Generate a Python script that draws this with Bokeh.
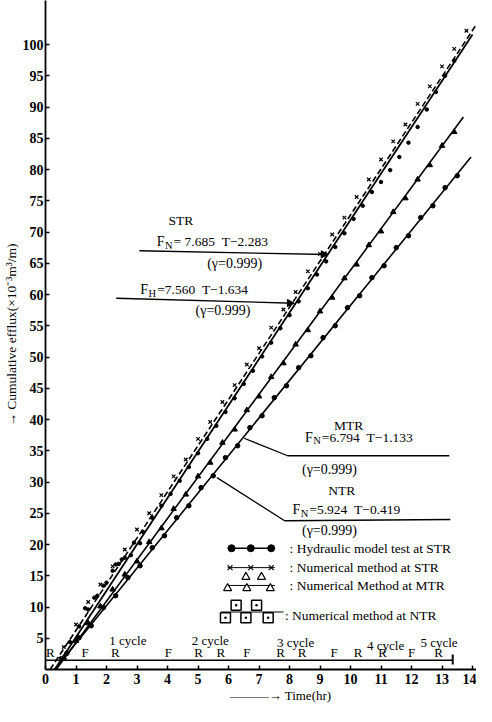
from bokeh.plotting import figure
from bokeh.models import (LinearAxis, FixedTicker, Range1d, Arrow, NormalHead)
from bokeh.core.properties import value
from bokeh.embed import file_html
from bokeh.resources import INLINE

FONT = "Liberation Serif"

# ---------------- data ----------------
x_ticks = list(range(0, 15))
y_ticks = list(range(5, 105, 5))

# STR hydraulic model test (filled dots)
str_hyd_T = [0.5, 0.8, 1.1, 1.3, 1.4, 1.6, 1.7, 1.9, 2.0, 2.2, 2.3, 2.4, 2.5, 2.6, 2.8,
             2.9, 3.1, 3.2, 3.5, 3.8, 4.1, 4.4, 4.7, 5.0, 5.3, 5.6, 5.9, 6.2, 6.5,
             6.8, 7.1, 7.4, 7.7, 8.0, 8.3, 8.6, 8.9, 9.2, 9.5, 9.8, 10.1, 10.4, 10.7,
             11.0, 11.3, 11.6, 11.9, 12.2, 12.5, 12.8, 13.1, 13.4]
str_hyd_F = [1.8, 4.4, 6.9, 9.8, 9.6, 11.5, 11.8, 13.4, 13.9, 15.8, 16.8, 16.9, 17.6, 17.9, 18.3,
             20.3, 20.2, 22.0, 24.3, 26.2, 28.1, 30.2, 32.4, 34.6, 36.9, 39.0, 41.2, 43.4, 45.7,
             47.8, 50.1, 52.3, 54.6, 56.7, 58.9, 61.0, 63.2, 65.3, 67.6, 69.8, 72.1, 74.2, 76.4,
             78.0, 79.9, 82.0, 84.3, 86.8, 89.6, 92.4, 95.0, 97.4]

# STR numerical method (x marks)
str_num_T = [0.6, 1.0, 1.4, 1.8, 2.2, 2.6, 3.0, 3.4, 3.8, 4.2, 4.6, 5.0, 5.4, 5.8, 6.2,
             6.6, 7.0, 7.4, 7.8, 8.2, 8.6, 9.0, 9.4, 9.8, 10.2, 10.6, 11.0, 11.4, 11.8,
             12.2, 12.6, 13.0, 13.4, 13.8]
str_num_F = [3.6, 7.2, 10.8, 13.6, 16.5, 19.2, 22.4, 25.0, 27.9, 30.9, 33.6, 36.9, 39.6, 42.8, 45.5,
             48.8, 51.4, 54.7, 57.6, 60.4, 63.7, 66.5, 69.6, 72.3, 75.6, 78.4, 81.6, 84.5, 87.2,
             90.5, 93.3, 96.5, 99.3, 102.2]

# MTR numerical method (triangles)
mtr_T = [0.6, 1.0, 1.4, 1.8, 2.2, 2.6, 3.0, 3.4, 3.8, 4.2, 4.6, 5.0, 5.4, 5.8, 6.2, 6.6, 7.0,
         7.4, 7.8, 8.2, 8.6, 9.0, 9.4, 9.8, 10.2, 10.6, 11.0, 11.4, 11.8, 12.2, 12.6, 13.0, 13.4]
mtr_F = [1.9, 4.6, 7.4, 10.1, 12.8, 15.2, 17.3, 20.4, 22.6, 25.7, 28.0, 30.9, 33.1, 36.3, 38.4,
         41.5, 43.7, 46.8, 49.0, 52.0, 54.3, 57.3, 59.5, 62.6, 64.8, 67.9, 70.1, 73.2, 75.4,
         78.4, 80.7, 83.8, 86.0]

# NTR numerical method (dotted squares)
ntr_T = [0.7, 1.1, 1.5, 1.9, 2.3, 2.7, 3.1, 3.5, 3.9, 4.3, 4.7, 5.1, 5.5, 5.9, 6.3, 6.7, 7.1,
         7.5, 7.9, 8.3, 8.7, 9.1, 9.5, 9.9, 10.3, 10.7, 11.1, 11.5, 11.9, 12.3, 12.7, 13.1, 13.5]
ntr_F = [2.6, 5.1, 7.0, 9.9, 11.8, 14.7, 16.6, 19.5, 21.4, 24.3, 26.2, 29.1, 31.0, 33.9, 35.8,
         38.7, 40.6, 43.5, 45.4, 48.3, 50.2, 53.1, 55.0, 57.9, 59.8, 62.7, 64.6, 67.5, 69.4,
         72.3, 74.2, 77.1, 79.0]

# fitted lines (end points)
str_fitN_T = [0.3, 14.0]
str_fitN_F = [0.0, 101.6]
str_fitH_T = [0.15, 14.1]
str_fitH_F = [0.0, 103.0]
mtr_fit_T = [0.35, 13.7]
mtr_fit_F = [0.0, 88.4]
ntr_fit_T = [0.3, 13.95]
ntr_fit_F = [0.0, 82.0]

# cycle bar along the time axis
cycle_bar_T = [0.0, 13.35]
cycle_bar_F = [1.5, 1.5]
phase_T = [0.16, 1.30, 2.29, 4.03, 5.02, 5.75, 6.60, 7.71, 8.41, 9.46, 10.25, 11.05, 12.0, 12.89]
phase_txt = ["R", "F", "R", "F", "R", "R", "F", "R", "R", "F", "R", "R", "F", "R"]
cycle_T = [2.7, 5.4, 8.2, 11.15, 12.9]
cycle_F = [4.7, 4.7, 4.4, 3.9, 4.4]
cycle_txt = ["1 cycle", "2 cycle", "3 cycle", "4 cycle", "5 cycle"]

NB = "\u00a0"

# ---------------- figure ----------------
p = figure(width=476, height=706, output_backend="svg", toolbar_location=None,
           x_range=Range1d(0, 14.13), y_range=Range1d(0, 107.04),
           x_axis_type=None, y_axis_type=None,
           min_border_left=38, min_border_right=0, min_border_top=0, min_border_bottom=37)
p.outline_line_color = None
p.background_fill_color = "white"
p.border_fill_color = "white"

xaxis = LinearAxis(ticker=FixedTicker(ticks=x_ticks),
                   axis_label=NB * 12 + "\u2014\u2014\u2014\u2192 Time(hr)")
yaxis = LinearAxis(ticker=FixedTicker(ticks=y_ticks),
                   axis_label="\u2192 Cumulative efflux(\u00d710\u207b\u00b3m\u00b3/m)")
for ax in (xaxis, yaxis):
    ax.axis_line_width = 1.8
    ax.axis_line_color = "black"
    ax.major_tick_in = 4
    ax.major_tick_out = 0
    ax.major_tick_line_width = 1.5
    ax.minor_tick_line_color = None
    ax.major_label_text_font = FONT
    ax.major_label_text_font_size = "14px"
    ax.major_label_text_font_style = "bold"
    ax.major_label_text_color = "black"
    ax.axis_label_text_font = FONT
    ax.axis_label_text_font_style = "normal"
    ax.axis_label_text_color = "black"
xaxis.major_label_standoff = 4
xaxis.axis_label_standoff = 1
xaxis.axis_label_text_font_size = "13px"
yaxis.major_label_standoff = 2
yaxis.axis_label_standoff = 1
yaxis.axis_label_text_font_size = "13.5px"
p.add_layout(xaxis, "below")
p.add_layout(yaxis, "left")

# fitted lines
p.line(str_fitN_T, str_fitN_F, line_color="black", line_width=1.8)
p.line(str_fitH_T, str_fitH_F, line_color="black", line_width=1.6, line_dash="6 3")
p.line(mtr_fit_T, mtr_fit_F, line_color="black", line_width=1.6)
p.line(ntr_fit_T, ntr_fit_F, line_color="black", line_width=1.6)

# data points
p.scatter(str_hyd_T, str_hyd_F, marker="circle", size=3.5, color="black")
p.scatter(str_num_T, str_num_F, marker="x", size=5, line_color="black", line_width=1.2)
p.scatter(mtr_T, mtr_F, marker="triangle", size=5.5, color="black")
p.scatter(ntr_T, ntr_F, marker="circle", size=4.5, color="black")

# cycle bar
p.line(cycle_bar_T, cycle_bar_F, line_color="black", line_width=1.5)
p.line([cycle_bar_T[1], cycle_bar_T[1]], [0.8, 2.4], line_color="black", line_width=2)
p.text(x=phase_T, y=[2.7] * len(phase_T), text=phase_txt, text_font=value(FONT),
       text_font_size="13px", text_align="center", text_baseline="middle", text_color="black")
p.text(x=cycle_T, y=cycle_F, text=cycle_txt, text_font=value(FONT),
       text_font_size="13px", text_align="center", text_baseline="middle", text_color="black")


def txt(x, y, s, size="13px", align="left"):
    p.text(x=[x], y=[y], text=[s], text_font=value(FONT), text_font_size=size,
           text_align=align, text_baseline="middle", text_color="black")


def eq(x, y, sub, rest):
    txt(x, y, "F", "14px")
    txt(x + 0.27, y - 0.6, sub, "10.5px")
    txt(x + 0.55, y, rest, "13.5px")


# STR annotations
txt(4.03, 71.8, "STR", "13.5px")
eq(3.65, 68.5, "N", "=" + NB + "7.685" + NB + NB + "T\u22122.283")
txt(5.3, 65.0, "(\u03b3=0.999)", "14px")
p.add_layout(Arrow(end=NormalHead(size=7, fill_color="black", line_color="black"),
                   x_start=3.08, y_start=67.0, x_end=9.27, y_end=66.4,
                   line_width=1.3, line_color="black"))
eq(3.11, 60.8, "H", "=7.560" + NB + NB + "T\u22121.634")
txt(4.92, 57.4, "(\u03b3=0.999)", "14px")
p.add_layout(Arrow(end=NormalHead(size=7, fill_color="black", line_color="black"),
                   x_start=2.32, y_start=59.4, x_end=8.16, y_end=58.6,
                   line_width=1.3, line_color="black"))

# MTR annotations
txt(9.46, 39.0, "MTR", "13.5px")
eq(8.51, 37.2, "N", "=6.794" + NB + NB + "T\u22121.133")
p.line([6.51, 7.94, 13.24], [37.0, 34.2, 34.2], line_color="black", line_width=1.3)
txt(8.41, 32.0, "(\u03b3=0.999)", "14px")

# NTR annotations
txt(9.27, 28.6, "NTR", "13.5px")
eq(8.1, 25.6, "N", "=5.924" + NB + NB + "T\u22120.419")
p.line([5.62, 7.84, 13.27], [30.7, 23.8, 24.0], line_color="black", line_width=1.3)
txt(8.41, 22.2, "(\u03b3=0.999)", "14px")

# legend (drawn)
p.line([5.97, 7.52], [19.4, 19.4], line_color="black", line_width=1.3)
p.scatter([6.1, 6.73, 7.4], [19.4] * 3, marker="circle", size=7, color="black")
txt(8.0, 19.4, ": Hydraulic model test at STR", "13.5px")
p.line([5.97, 7.52], [16.3, 16.3], line_color="black", line_width=1.0)
p.scatter([6.05, 6.73, 7.4], [16.3] * 3, marker="x", size=7, line_color="black", line_width=1.2)
txt(8.0, 16.3, ": Numerical method at STR", "13.5px")
p.line([5.97, 7.52], [13.45, 13.45], line_color="black", line_width=1.0)
p.scatter([6.57, 7.08], [14.8] * 2, marker="triangle", size=8, line_color="black",
          fill_color="white", line_width=1.2)
p.scatter([5.97, 6.6, 7.37], [13.0] * 3, marker="triangle", size=8, line_color="black",
          fill_color="white", line_width=1.2)
txt(8.0, 13.4, ": Numerical Method at MTR", "13.5px")
p.line([5.75, 7.8], [9.2, 9.2], line_color="black", line_width=1.0)
p.scatter([6.25, 6.92], [10.3] * 2, marker="square_dot", size=10, line_color="black",
          fill_color="white", line_width=1.5)
p.scatter([5.9, 6.57, 7.3], [8.3] * 3, marker="square_dot", size=10, line_color="black",
          fill_color="white", line_width=1.5)
txt(7.85, 8.6, ": Numerical method at NTR", "13.5px")

open("out.html", "w").write(file_html(p, INLINE))
